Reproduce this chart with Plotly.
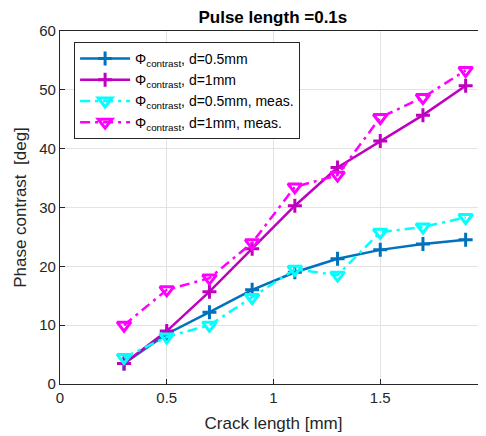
import plotly.graph_objects as go

crack_length = [0.3, 0.5, 0.7, 0.9, 1.1, 1.3, 1.5, 1.7, 1.9]
phi_d05 = [3.5, 8.5, 12.2, 16.0, 19.0, 21.3, 22.8, 23.8, 24.5]
phi_d1 = [3.5, 9.0, 15.7, 23.0, 30.3, 36.8, 41.3, 45.7, 50.7]
phi_d05_meas = [4.5, 8.0, 10.0, 14.7, 19.5, 18.5, 25.8, 26.7, 28.3]
phi_d1_meas = [10.0, 16.0, 18.0, 24.0, 33.5, 35.5, 45.3, 48.7, 53.3]

series = [
    ("Φ<sub>contrast</sub>, d=0.5mm", phi_d05, "#0072BD", "solid", "cross-thin-open", 10),
    ("Φ<sub>contrast</sub>, d=1mm", phi_d1, "#BF00BF", "solid", "cross-thin-open", 10),
    ("Φ<sub>contrast</sub>, d=0.5mm, meas.", phi_d05_meas, "#00FFFF", "10px,5px,3px,5px", "triangle-down-open", 12),
    ("Φ<sub>contrast</sub>, d=1mm, meas.", phi_d1_meas, "#FF00FF", "10px,5px,3px,5px", "triangle-down-open", 12),
]

fig = go.Figure()
for name, ys, color, dash, sym, msize in series:
    fig.add_trace(go.Scatter(
        x=crack_length, y=ys, name=name, mode="lines+markers",
        line=dict(color=color, width=2.5, dash=dash),
        marker=dict(symbol=sym, size=msize, color=color, line=dict(color=color, width=3)),
    ))

axis_common = dict(
    showgrid=True, gridcolor="#E3E3E3", gridwidth=1,
    showline=True, linecolor="#262626", linewidth=1.2, mirror=True,
    ticks="inside", ticklen=5, tickcolor="#262626",
    tickfont=dict(size=15, color="#262626"),
    zeroline=False, automargin=False,
)

# page body has an 8px margin: figure coords are offset by (8, 8)
fig.update_layout(
    width=486, height=436,
    margin=dict(l=52, r=7, t=23, b=60),
    paper_bgcolor="white", plot_bgcolor="white",
    font=dict(family="Liberation Sans, Arial, sans-serif", color="#262626"),
    title=dict(text="<b>Pulse length =0.1s</b>", x=0.545, xanchor="center", y=0.979, yanchor="middle",
               font=dict(size=17, color="black")),
    xaxis=dict(range=[0, 2], tickvals=[0, 0.5, 1, 1.5, 2], ticktext=["0", "0.5", "1", "1.5", "2"],
               title=dict(text="Crack length [mm]", font=dict(size=17), standoff=12), **axis_common),
    yaxis=dict(range=[0, 60], tickvals=[0, 10, 20, 30, 40, 50, 60],
               title=dict(text="Phase contrast  [deg]", font=dict(size=17), standoff=8), **axis_common),
    legend=dict(x=0.033, y=0.969, xanchor="left", yanchor="top",
                bgcolor="white", bordercolor="#262626", borderwidth=1,
                font=dict(size=14, color="black"), tracegroupgap=0, itemwidth=50),
    showlegend=True,
)

fig.write_html("out.html")
